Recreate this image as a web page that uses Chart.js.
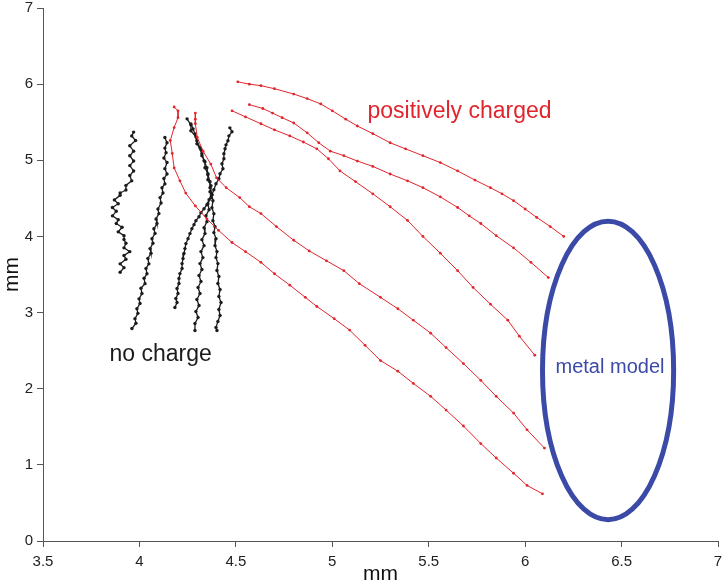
<!DOCTYPE html>
<html>
<head>
<meta charset="utf-8">
<script src="https://cdn.jsdelivr.net/npm/chart.js@4.4.1/dist/chart.umd.min.js"></script>
<style>
  html, body { margin: 0; padding: 0; background: #fff; }
  #wrap { width: 724px; height: 587px; position: relative; }
</style>
</head>
<body>
<div id="wrap"><canvas id="c"></canvas></div>
<script>
// axis ranges / ticks
var xTicks = [3.5, 4, 4.5, 5, 5.5, 6, 6.5, 7];
var yTicks = [0, 1, 2, 3, 4, 5, 6, 7];

// no charge (black tracks)
var black1 = [[3.97,5.37],[3.96,5.32],[3.98,5.26],[3.95,5.19],[3.97,5.12],[3.95,5.06],[3.97,4.99],[3.95,4.93],[3.97,4.86],[3.95,4.80],[3.96,4.73],[3.93,4.67],[3.93,4.61],[3.90,4.57],[3.90,4.54],[3.87,4.48],[3.89,4.43],[3.86,4.38],[3.88,4.33],[3.86,4.27],[3.89,4.22],[3.88,4.17],[3.91,4.12],[3.89,4.06],[3.92,4.01],[3.92,3.96],[3.93,3.91],[3.92,3.85],[3.95,3.80],[3.92,3.75],[3.93,3.70],[3.90,3.64],[3.92,3.59],[3.90,3.53]];
var black2 = [[4.132,5.30],[4.143,5.23],[4.132,5.16],[4.138,5.10],[4.127,5.03],[4.143,4.97],[4.132,4.89],[4.143,4.82],[4.127,4.76],[4.132,4.69],[4.117,4.64],[4.122,4.57],[4.107,4.51],[4.112,4.44],[4.096,4.36],[4.101,4.30],[4.086,4.23],[4.091,4.17],[4.075,4.10],[4.081,4.04],[4.065,3.97],[4.070,3.91],[4.055,3.84],[4.060,3.78],[4.044,3.71],[4.049,3.64],[4.034,3.58],[4.039,3.51],[4.024,3.45],[4.029,3.38],[4.008,3.32],[4.013,3.25],[3.998,3.18],[4.003,3.12],[3.987,3.05],[3.992,2.99],[3.977,2.92],[3.982,2.86],[3.961,2.79]];
var black3 = [[4.247,5.544],[4.267,5.465],[4.267,5.387],[4.293,5.308],[4.298,5.216],[4.319,5.138],[4.324,5.059],[4.340,4.980],[4.340,4.902],[4.355,4.823],[4.355,4.744],[4.371,4.666],[4.366,4.587],[4.371,4.509],[4.355,4.430],[4.361,4.351],[4.345,4.273],[4.350,4.194],[4.335,4.115],[4.340,4.037],[4.324,3.958],[4.335,3.879],[4.319,3.801],[4.329,3.722],[4.314,3.643],[4.324,3.565],[4.309,3.486],[4.319,3.408],[4.304,3.329],[4.314,3.250],[4.298,3.172],[4.309,3.093],[4.293,3.014],[4.304,2.936],[4.288,2.857],[4.288,2.765]];
var black4 = [[4.267,5.478],[4.278,5.413],[4.288,5.347],[4.298,5.256],[4.314,5.164],[4.324,5.085],[4.335,4.993],[4.350,4.902],[4.355,4.810],[4.366,4.718],[4.366,4.640],[4.376,4.548],[4.381,4.469],[4.376,4.377],[4.386,4.299],[4.381,4.207],[4.392,4.128],[4.386,4.050],[4.397,3.971],[4.392,3.879],[4.402,3.801],[4.397,3.722],[4.407,3.643],[4.402,3.552],[4.412,3.473],[4.407,3.381],[4.418,3.303],[4.412,3.211],[4.423,3.132],[4.412,3.041],[4.418,2.962],[4.407,2.883],[4.397,2.805],[4.402,2.765]];
var black5 = [[4.469,5.426],[4.480,5.374],[4.464,5.321],[4.459,5.256],[4.449,5.203],[4.444,5.151],[4.438,5.085],[4.438,5.020],[4.428,4.954],[4.433,4.889],[4.418,4.823],[4.412,4.757],[4.397,4.692],[4.386,4.613],[4.376,4.548],[4.361,4.482],[4.350,4.417],[4.335,4.364],[4.319,4.312],[4.309,4.259],[4.293,4.207],[4.283,4.155],[4.272,4.102],[4.262,4.037],[4.252,3.971],[4.241,3.906],[4.236,3.840],[4.231,3.775],[4.226,3.709],[4.221,3.643],[4.221,3.578],[4.210,3.512],[4.205,3.447],[4.205,3.381],[4.195,3.316],[4.200,3.250],[4.189,3.185],[4.195,3.132],[4.184,3.067]];

// positively charged (red tracks)
var red1 = [[4.51,6.03],[4.57,6.00],[4.63,5.98],[4.70,5.94],[4.80,5.87],[4.87,5.81],[4.94,5.74],[5.00,5.65],[5.07,5.54],[5.13,5.45],[5.21,5.35],[5.30,5.23],[5.38,5.15],[5.47,5.06],[5.56,4.97],[5.65,4.86],[5.74,4.74],[5.82,4.64],[5.88,4.56],[5.94,4.47],[6.00,4.36],[6.06,4.25],[6.13,4.13],[6.20,4.00]];
var red2 = [[4.57,5.73],[4.64,5.68],[4.69,5.62],[4.74,5.56],[4.80,5.49],[4.87,5.36],[4.93,5.23],[4.99,5.12],[5.06,5.06],[5.13,4.99],[5.21,4.92],[5.30,4.82],[5.39,4.73],[5.47,4.64],[5.56,4.52],[5.65,4.38],[5.71,4.27],[5.77,4.17],[5.85,4.01],[5.94,3.85],[6.03,3.66],[6.12,3.46]];
var red3 = [[4.48,5.65],[4.55,5.57],[4.63,5.48],[4.70,5.40],[4.78,5.32],[4.85,5.24],[4.92,5.15],[4.98,5.02],[5.04,4.86],[5.12,4.72],[5.21,4.56],[5.30,4.39],[5.39,4.21],[5.47,4.00],[5.56,3.78],[5.65,3.55],[5.73,3.33],[5.82,3.11],[5.91,2.90],[5.97,2.69],[6.05,2.44]];
var red4 = [[4.18,5.70],[4.20,5.65],[4.20,5.56],[4.18,5.43],[4.16,5.26],[4.17,5.09],[4.18,4.90],[4.21,4.73],[4.24,4.57],[4.29,4.40],[4.35,4.23],[4.41,4.08],[4.48,3.92],[4.55,3.80],[4.63,3.66],[4.70,3.51],[4.78,3.36],[4.86,3.20],[4.92,3.08],[5.01,2.92],[5.09,2.77],[5.17,2.57],[5.25,2.37],[5.34,2.23],[5.42,2.07],[5.51,1.90],[5.59,1.72],[5.68,1.51],[5.77,1.28],[5.85,1.09],[5.94,0.89],[6.01,0.73],[6.09,0.62]];
var red5 = [[4.29,5.62],[4.29,5.54],[4.29,5.48],[4.30,5.30],[4.33,5.12],[4.37,4.95],[4.40,4.77],[4.45,4.64],[4.52,4.51],[4.57,4.39],[4.63,4.30],[4.71,4.13],[4.80,3.95],[4.88,3.81],[4.97,3.68],[5.06,3.55],[5.14,3.38],[5.25,3.20],[5.34,3.05],[5.42,2.90],[5.51,2.73],[5.59,2.54],[5.68,2.33],[5.77,2.11],[5.85,1.90],[5.94,1.68],[6.01,1.46],[6.10,1.22]];

// metal model: centre x, centre y, half width, half height (mm)
var metalModel = [6.43, 2.24, 0.34, 1.96];

// text labels: text, x, y (mm)
var labels = [
  ['positively charged', 5.66, 5.56],
  ['no charge', 4.11, 2.36],
  ['metal model', 6.44, 2.20]
];

var RED = '#e1252c';
var BLACK = '#1c1c1c';
var BLUE = '#3b4aa6';

const toPts = (arr) => arr.map(p => ({x: p[0], y: p[1]}));

const blackSet = (arr) => ({
  data: toPts(arr), showLine: true, borderColor: BLACK, borderWidth: 1.3,
  pointRadius: 1.7, pointBackgroundColor: BLACK, pointBorderWidth: 0
});
const redSet = (arr) => ({
  data: toPts(arr), showLine: true, borderColor: RED, borderWidth: 1,
  pointRadius: 1.4, pointBackgroundColor: RED, pointBorderWidth: 0
});

var overlay = {
  id: 'overlay',
  afterDatasetsDraw(chart) {
    const ctx = chart.ctx, xs = chart.scales.x, ys = chart.scales.y;
    // metal model ellipse
    const cx = xs.getPixelForValue(metalModel[0]);
    const cy = ys.getPixelForValue(metalModel[1]);
    const rx = xs.getPixelForValue(metalModel[0] + metalModel[2]) - cx;
    const ry = cy - ys.getPixelForValue(metalModel[1] + metalModel[3]);
    ctx.save();
    ctx.beginPath();
    ctx.ellipse(cx, cy, rx, ry, 0, 0, Math.PI * 2);
    ctx.strokeStyle = BLUE;
    ctx.lineWidth = 5;
    ctx.stroke();

    ctx.textAlign = 'center';
    ctx.textBaseline = 'alphabetic';
    const styles = [[RED, 23], [BLACK, 23], [BLUE, 20]];
    labels.forEach((l, i) => {
      ctx.fillStyle = styles[i][0];
      ctx.font = styles[i][1] + 'px "Liberation Sans", Arial, sans-serif';
      ctx.fillText(l[0], xs.getPixelForValue(l[1]), ys.getPixelForValue(l[2]));
    });
    ctx.restore();
  }
};

const tickFont = { family: '"Liberation Sans", Arial', size: 15 };

new Chart(document.getElementById('c'), {
  type: 'scatter',
  data: {
    datasets: [
      redSet(red1), redSet(red2), redSet(red3), redSet(red4), redSet(red5),
      blackSet(black1), blackSet(black2), blackSet(black3), blackSet(black4), blackSet(black5)
    ]
  },
  options: {
    responsive: true,
    maintainAspectRatio: false,
    animation: false,
    layout: { padding: { top: 8, right: 6, left: 0, bottom: 0 } },
    plugins: { legend: { display: false }, tooltip: { enabled: false } },
    scales: {
      x: {
        type: 'linear', min: xTicks[0], max: xTicks[xTicks.length - 1],
        afterBuildTicks: (s) => { s.ticks = xTicks.map(v => ({value: v})); },
        afterFit: (s) => { s.height = 46; s.paddingLeft = 0; s.paddingRight = 0; },
        grid: { drawOnChartArea: false, tickLength: 6, color: '#555', tickColor: '#555' },
        border: { color: '#555', width: 1 },
        ticks: { padding: 6, color: '#222', font: tickFont, maxRotation: 0, callback: (v) => String(v) },
        title: { display: true, text: 'mm', color: '#111', padding: 0, font: { family: '"Liberation Sans", Arial', size: 21 } }
      },
      y: {
        type: 'linear', min: yTicks[0], max: yTicks[yTicks.length - 1],
        afterBuildTicks: (s) => { s.ticks = yTicks.map(v => ({value: v})); },
        afterFit: (s) => { s.width = 43; s.paddingTop = 0; s.paddingBottom = 0; },
        grid: { drawOnChartArea: false, tickLength: 6, color: '#555', tickColor: '#555' },
        border: { color: '#555', width: 1 },
        ticks: { padding: 4, color: '#222', font: tickFont, callback: (v) => String(v) },
        title: { display: true, text: 'mm', color: '#111', padding: 0, font: { family: '"Liberation Sans", Arial', size: 21 } }
      }
    }
  },
  plugins: [overlay]
});
</script>
</body>
</html>
